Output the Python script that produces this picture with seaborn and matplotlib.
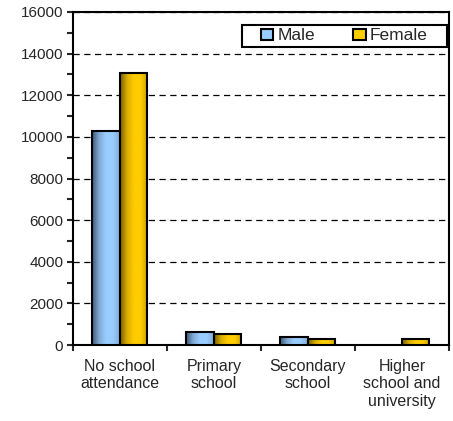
import pandas as pd
import seaborn as sns
import matplotlib.pyplot as plt
import matplotlib.patches as mpatches
import numpy as np
from matplotlib.colors import LinearSegmentedColormap

categories = ['No school\nattendance', 'Primary\nschool', 'Secondary\nschool', 'Higher\nschool and\nuniversity']
male = [10300, 640, 370, 0]
female = [13050, 510, 310, 310]

df = pd.DataFrame({
    'cat': categories * 2,
    'value': male + female,
    'sex': ['Male'] * 4 + ['Female'] * 4,
})

sns.set_style('white')
plt.rcParams['font.family'] = ['Liberation Sans', 'DejaVu Sans']

fig = plt.figure(figsize=(4.53, 4.21), dpi=100)
ax = fig.add_axes([0.161, 0.1805, 0.830, 0.791])

colors = {'Male': '#99CCFF', 'Female': '#FFCC00'}
sns.barplot(data=df, x='cat', y='value', hue='sex', palette=colors,
            width=0.585, edgecolor='black', linewidth=1.5, ax=ax, zorder=3,
            legend=False)

# horizontal gradient on bars (dark left edge, light middle)
cmaps = {
    'Male': LinearSegmentedColormap.from_list('m', ['#3d5a78', '#7fa8d2', '#99CCFF', '#99CCFF', '#86afd8']),
    'Female': LinearSegmentedColormap.from_list('f', ['#7a5f00', '#d9ad00', '#FFCC00', '#FFCC00', '#c79f00']),
}
grad = np.linspace(0, 1, 64).reshape(1, -1)
for cont, sex in zip(ax.containers, ['Male', 'Female']):
    for bar in cont:
        x0, y0 = bar.get_x(), bar.get_y()
        w, h = bar.get_width(), bar.get_height()
        if h <= 0:
            bar.set_visible(False)
            continue
        im = ax.imshow(grad, cmap=cmaps[sex], aspect='auto',
                       extent=[x0, x0 + w, y0, y0 + h], zorder=3.5)
        im.set_clip_path(bar)
        bar.set_zorder(4)
        bar.set_facecolor('none')

ax.set_xlim(-0.5, 3.5)
ax.set_ylim(0, 16000)
ax.set_yticks(np.arange(0, 16001, 2000))
ax.set_yticks(np.arange(1000, 16000, 2000), minor=True)
ax.yaxis.grid(True, which='major', linestyle=(0, (5, 3.6)), color='black', linewidth=0.9, zorder=0)
ax.set_xlabel('')
ax.set_ylabel('')

# category boundary ticks on x
ax.set_xticks(np.arange(-0.5, 3.6, 1.0), minor=True)
ax.tick_params(axis='x', which='major', length=0, labelsize=11.5, pad=10)
ax.tick_params(axis='x', which='minor', bottom=True, length=4, width=1.5, direction='out')
ax.tick_params(axis='y', which='major', left=True, length=4, width=1.5, direction='out', labelsize=11, pad=3)
ax.tick_params(axis='y', which='minor', left=True, length=4, width=1.5, direction='out')

for s in ax.spines.values():
    s.set_visible(True)
    s.set_color('black')
    s.set_linewidth(1.5)

# legend box
box = mpatches.Rectangle((0.449, 0.895), 0.546, 0.066, transform=ax.transAxes,
                         facecolor='white', edgecolor='black', linewidth=1.5, zorder=9)
ax.add_patch(box)
handles = [mpatches.Patch(facecolor=colors[k], edgecolor='black', linewidth=1.5, label=k)
           for k in ['Male', 'Female']]
leg = ax.legend(handles=handles, loc='center', bbox_to_anchor=(0.722, 0.928), ncol=2,
                fontsize=12.5, frameon=False, handlelength=0.7, handleheight=0.6,
                handletextpad=0.25, columnspacing=2.2, borderpad=0)
leg.set_zorder(10)

fig.savefig('out.png', dpi=100, facecolor='white')
